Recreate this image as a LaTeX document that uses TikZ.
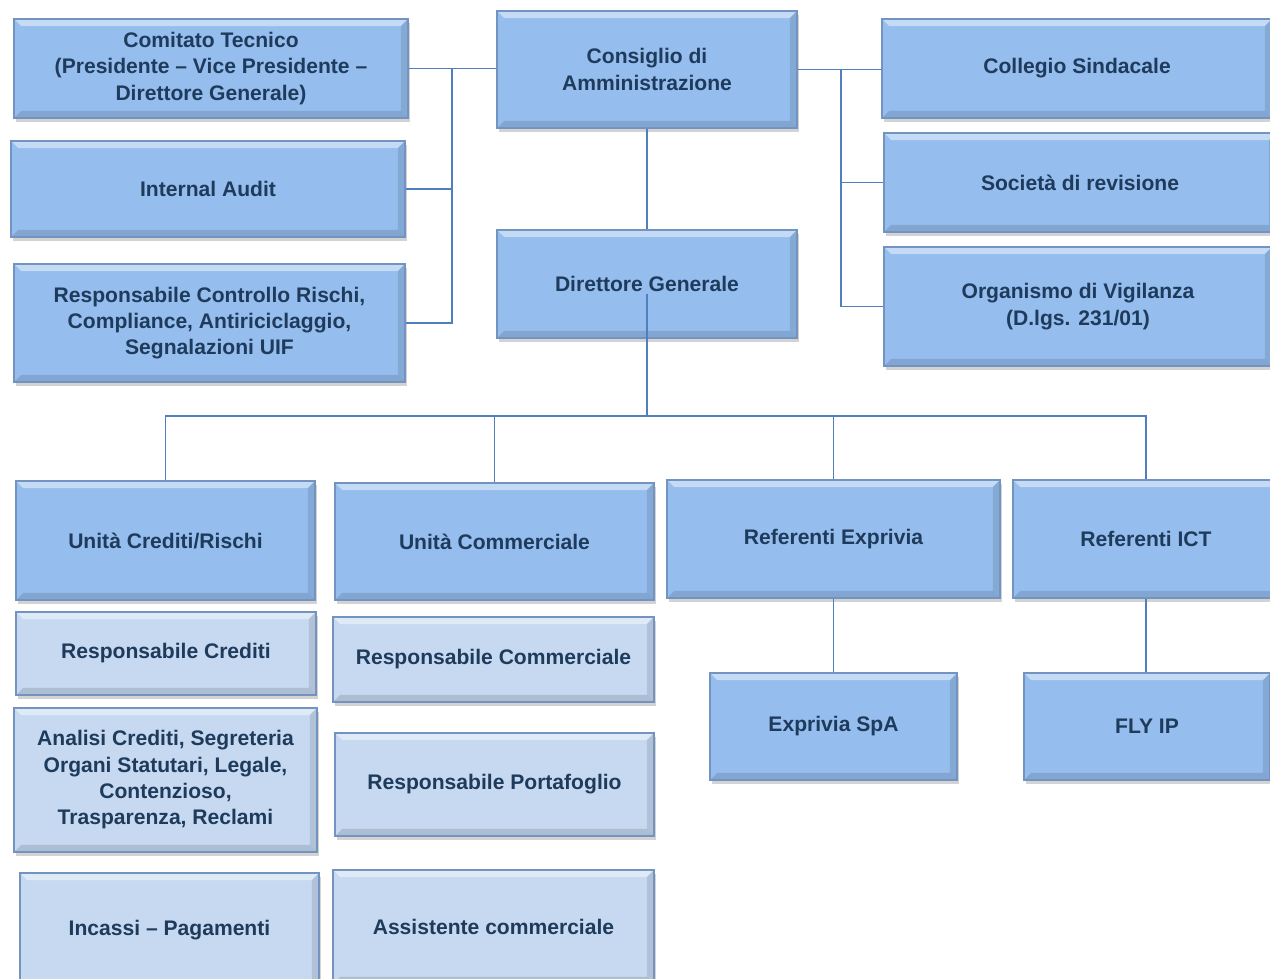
\documentclass[tikz,border=0pt]{standalone}
\usepackage{fontspec}
\setmainfont{Liberation Sans}
\usetikzlibrary{positioning,shadows}

\definecolor{unitfill}{HTML}{95BDEE}
\definecolor{stafffill}{HTML}{C6D9F1}
\definecolor{unitline}{HTML}{7393C0}
\definecolor{unittext}{HTML}{1F3B5C}
\definecolor{linkblue}{HTML}{4F7FBF}

\tikzset{
  bevel/.style={path picture={
    \fill[white,opacity=0.45] (path picture bounding box.north west) -- (path picture bounding box.north east)
      -- ([shift={(-4pt,-4pt)}]path picture bounding box.north east) -- ([shift={(4pt,-4pt)}]path picture bounding box.north west) -- cycle;
    \fill[black,opacity=0.12] (path picture bounding box.south west) -- (path picture bounding box.south east)
      -- ([shift={(-4pt,4pt)}]path picture bounding box.south east) -- ([shift={(4pt,4pt)}]path picture bounding box.south west) -- cycle;
    \fill[black,opacity=0.10] (path picture bounding box.north east) -- (path picture bounding box.south east)
      -- ([shift={(-4pt,4pt)}]path picture bounding box.south east) -- ([shift={(-4pt,-4pt)}]path picture bounding box.north east) -- cycle;
  }},
  unit/.style={shape=rectangle, draw=unitline, fill=unitfill, text=unittext, line width=0.8pt,
    font=\fontsize{12}{15}\selectfont\bfseries, align=center, bevel,
    drop shadow={shadow xshift=1pt, shadow yshift=-2.5pt, opacity=0.35}},
  staff/.style={unit, fill=stafffill},
  link/.style={draw=linkblue, line width=1.1pt}
}

\begin{document}
\begin{tikzpicture}[x=0.02cm,y=-0.02cm]
\useasboundingbox (0,0) rectangle (1270,979);

% organi
\node[unit,minimum width=7.88cm,minimum height=1.98cm] (ct) at (211,68.5){Comitato Tecnico\\(Presidente – Vice Presidente –\\Direttore Generale)};
\node[unit,minimum width=7.88cm,minimum height=1.92cm] (ia) at (208,189){Internal Audit};
\node[unit,minimum width=7.82cm,minimum height=2.36cm] (rcr) at (209.5,323){Responsabile Controllo Rischi,\\Compliance, Antiriciclaggio,\\Segnalazioni UIF};
\node[unit,minimum width=6cm,minimum height=2.34cm] (cda) at (647,69.5){Consiglio di\\Amministrazione};
\node[unit,minimum width=6cm,minimum height=2.16cm] (dg) at (647,284){Direttore Generale};
\node[unit,minimum width=7.8cm,minimum height=1.98cm] (cs) at (1077,68.5){Collegio Sindacale};
\node[unit,minimum width=7.84cm,minimum height=1.98cm] (sr) at (1080,182.5){Società di revisione};
\node[unit,minimum width=7.76cm,minimum height=2.38cm] (odv) at (1078,306.5){Organismo di Vigilanza\\(D.lgs. 231/01)};

% unita
\node[unit,minimum width=5.98cm,minimum height=2.38cm] (ucr) at (165.5,540.5){Unità Crediti/Rischi};
\node[unit,minimum width=6.38cm,minimum height=2.34cm] (uc) at (494.5,541.5){Unità Commerciale};
\node[unit,minimum width=6.66cm,minimum height=2.36cm] (rex) at (833.5,539){Referenti Exprivia};
\node[unit,minimum width=5.32cm,minimum height=2.36cm] (rict) at (1146,539){Referenti ICT};
\node[unit,minimum width=4.94cm,minimum height=2.14cm] (exs) at (833.5,726.5){Exprivia SpA};
\node[unit,minimum width=4.92cm,minimum height=2.14cm] (fly) at (1147,726.5){FLY IP};

% uffici
\node[staff,minimum width=6cm,minimum height=1.66cm] (rc) at (166,653.5){Responsabile Crediti};
\node[staff,minimum width=6.06cm,minimum height=2.88cm] (acr) at (165.5,780){Analisi Crediti, Segreteria\\Organi Statutari, Legale,\\Contenzioso,\\Trasparenza, Reclami};
\node[staff,minimum width=5.98cm,minimum height=2.28cm] (ip) at (169.5,930){Incassi – Pagamenti};
\node[staff,minimum width=6.42cm,minimum height=1.7cm] (rcom) at (493.5,659.5){Responsabile Commerciale};
\node[staff,minimum width=6.38cm,minimum height=2.06cm] (rp) at (494.5,784.5){Responsabile Portafoglio};
\node[staff,minimum width=6.42cm,minimum height=2.28cm] (ac) at (493.5,927){Assistente commerciale};

\coordinate (lbus) at (452,69);
\coordinate (rbus) at (841,69);
\coordinate (bus) at (647,416);

\draw[link] (ct.east) -- (ct.east -| cda.west);
\draw[link] (ia.east) -- (ia.east -| lbus);
\draw[link] (rcr.east) -| (lbus);
\draw[link] (cda.east) -- (cda.east -| cs.west);
\draw[link] (sr.west) -- (sr.west -| rbus);
\draw[link] (odv.west) -| (rbus);
\draw[link] (cda.south) -- (dg.north);
\draw[link] ([yshift=-0.2cm]dg.center) -- (bus);
\draw[link] (ucr.north) |- (bus) -| (rict.north);
\draw[link] (uc.north) -- (uc.north |- bus);
\draw[link] (rex.north) -- (rex.north |- bus);
\draw[link] (rex.south) -- (exs.north);
\draw[link] (rict.south) -- (rict.south |- fly.north);

\end{tikzpicture}
\end{document}
